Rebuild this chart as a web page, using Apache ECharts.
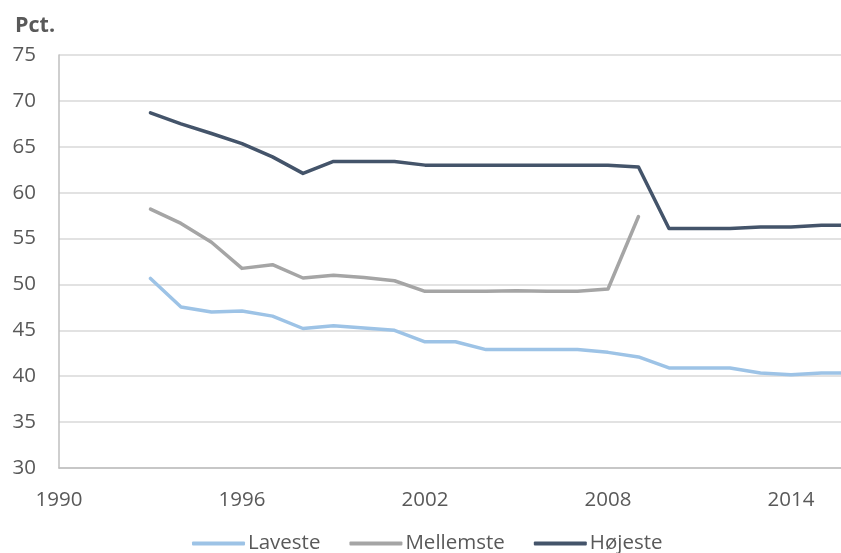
<!DOCTYPE html>
<html>
<head>
<meta charset="utf-8">
<script src="https://cdn.jsdelivr.net/npm/echarts@6/dist/echarts.min.js"></script>
<style>
  html, body { margin: 0; padding: 0; background: #fff; }
  #chart { width: 841px; height: 553px; }
</style>
</head>
<body>
<div id="chart"></div>
<script>
// Years covered by the three series
const years = [1993, 1994, 1995, 1996, 1997, 1998, 1999, 2000, 2001, 2002, 2003, 2004,
               2005, 2006, 2007, 2008, 2009, 2010, 2011, 2012, 2013, 2014, 2015, 2016];

// Share in percent
const laveste = [50.65, 47.55, 47.0, 47.1, 46.55, 45.2, 45.5, 45.25, 45.0, 43.75, 43.75, 42.9,
                 42.9, 42.9, 42.9, 42.6, 42.1, 40.9, 40.9, 40.9, 40.35, 40.15, 40.35, 40.35];
const mellemste = [58.2, 56.65, 54.6, 51.75, 52.15, 50.7, 51.0, 50.75, 50.4, 49.25, 49.25, 49.25,
                   49.3, 49.25, 49.25, 49.5, 57.4, null, null, null, null, null, null, null];
const hoejeste = [68.7, 67.5, 66.45, 65.35, 63.9, 62.1, 63.4, 63.4, 63.4, 63.0, 63.0, 63.0,
                  63.0, 63.0, 63.0, 63.0, 62.8, 56.1, 56.1, 56.1, 56.25, 56.25, 56.45, 56.45];

const seriesNames = ['Laveste', 'Mellemste', 'Højeste'];
const seriesColors = ['#9DC3E6', '#A5A5A5', '#44546A'];

const pairs = vals => years.map((y, i) => [y, vals[i]]);
const seriesData = [laveste, mellemste, hoejeste];

const FONT = 'Open Sans';
const TXT = '#595959';
const FS = 20.5;

const chart = echarts.init(document.getElementById('chart'), null, { renderer: 'canvas' });
chart.setOption({
  animation: false,
  backgroundColor: '#ffffff',
  title: {
    text: 'Pct.',
    left: 10,
    top: 10,
    textStyle: { fontFamily: FONT, fontSize: 21.5, fontWeight: 'bold', color: TXT }
  },
  grid: { left: 59, right: 0, top: 55, bottom: 85 },
  xAxis: {
    type: 'value',
    min: 1990,
    max: 2015.64,
    interval: 6,
    axisLine: { show: true, lineStyle: { color: '#BFBFBF', width: 1.5 } },
    axisTick: { show: false },
    splitLine: { show: false },
    axisLabel: {
      showMaxLabel: false,
      margin: 22,
      fontFamily: FONT, fontSize: FS, color: TXT,
      formatter: v => String(v)
    }
  },
  yAxis: {
    type: 'value',
    min: 30,
    max: 75,
    interval: 5,
    axisLine: { show: true, lineStyle: { color: '#BFBFBF', width: 1.5 } },
    axisTick: { show: false },
    splitLine: { show: true, lineStyle: { color: '#D9D9D9', width: 1.5 } },
    axisLabel: { margin: 23, fontFamily: FONT, fontSize: FS, color: TXT }
  },
  legend: {
    bottom: -6,
    left: 187,
    itemWidth: 53,
    itemHeight: 4,
    itemGap: 29,
    icon: 'roundRect',
    textStyle: { fontFamily: FONT, fontSize: FS, color: TXT, padding: [0, 0, 0, -2] },
    data: seriesNames
  },
  series: seriesNames.map((name, i) => ({
    name,
    type: 'line',
    data: pairs(seriesData[i]),
    symbol: 'none',
    connectNulls: false,
    clip: true,
    color: seriesColors[i],
    lineStyle: { color: seriesColors[i], width: 3.5, cap: 'round', join: 'round' }
  }))
});
</script>
</body>
</html>
